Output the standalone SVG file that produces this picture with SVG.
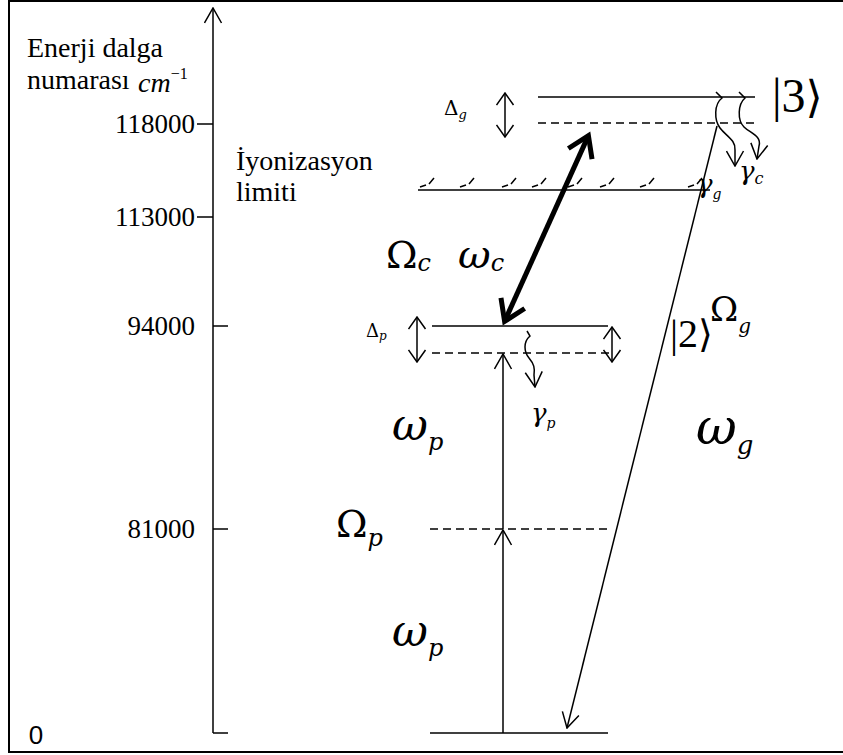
<svg xmlns="http://www.w3.org/2000/svg" width="843" height="755" viewBox="0 0 843 755">
<style>
.ln{stroke:#000;stroke-width:1.5;fill:none}
.dash{stroke:#000;stroke-width:1.5;fill:none;stroke-dasharray:8,5}
.thick{stroke:#000;stroke-width:5;fill:none}
.t{font-family:"Liberation Serif","DejaVu Serif","Times New Roman",serif;fill:#000}
.g{font-family:"DejaVu Serif","Liberation Serif",serif;fill:#000}
.i{font-style:italic}
.s{font-family:"Liberation Sans",Arial,sans-serif;fill:#000}
</style>
<defs>
<marker id="arr" markerUnits="userSpaceOnUse" viewBox="-1 -1 17 19" markerWidth="17" markerHeight="19" refX="15" refY="8.5" orient="auto-start-reverse">
<path d="M0,0 L15,8.5 L0,17" fill="none" stroke="#000" stroke-width="1.5"/>
</marker>
<marker id="arrS" markerUnits="userSpaceOnUse" viewBox="-1 -1 14 19" markerWidth="14" markerHeight="19" refX="12" refY="8.5" orient="auto-start-reverse">
<path d="M0,0 L12,8.5 L0,17" fill="none" stroke="#000" stroke-width="1.5"/>
</marker>
<marker id="arrT" markerUnits="userSpaceOnUse" viewBox="-3 -3 28 32" markerWidth="28" markerHeight="32" refX="20" refY="13" orient="auto-start-reverse">
<path d="M0,0 L20,13 L0,26" fill="none" stroke="#000" stroke-width="5"/>
</marker>
</defs>
<rect x="9" y="1" width="840" height="751" fill="#fff" stroke="#000" stroke-width="2"/>

<g id="axis">
<line class="ln" x1="213" y1="733" x2="213" y2="8" marker-end="url(#arr)"/>
<line class="ln" x1="197" y1="124" x2="213" y2="124"/>
<line class="ln" x1="197" y1="217" x2="213" y2="217"/>
<line class="ln" x1="213" y1="326" x2="228" y2="326"/>
<line class="ln" x1="213" y1="529" x2="228" y2="529"/>
<line class="ln" x1="213" y1="733" x2="228" y2="733"/>
<text class="t" x="27" y="57" font-size="28">Enerji dalga</text>
<text class="t" x="27" y="89" font-size="28">numarası</text>
<text class="t i" x="138" y="92" font-size="28">cm<tspan font-size="16" font-style="normal" dy="-13">−1</tspan></text>
<text class="t" x="195" y="133" font-size="27" text-anchor="end">118000</text>
<text class="t" x="195" y="226" font-size="27" text-anchor="end">113000</text>
<text class="t" x="195" y="335" font-size="27" text-anchor="end">94000</text>
<text class="t" x="195" y="538" font-size="27" text-anchor="end">81000</text>
<text class="s" x="36" y="744" font-size="26" text-anchor="middle">0</text>
</g>

<g id="level3">
<line class="ln" x1="538" y1="97" x2="755" y2="97"/>
<line class="dash" x1="538" y1="123" x2="755" y2="123"/>
<text class="g" x="444" y="115" font-size="20">Δ<tspan class="i" font-size="13" dy="4">g</tspan></text>
<text class="t" x="772" y="112" font-size="48">|3<tspan class="g" font-size="44">⟩</tspan></text>
</g>

<g id="ionization">
<line class="ln" x1="418" y1="190" x2="710" y2="190"/>
<path class="ln" stroke-width="1.2" d="M420,187 l6,-2 M429,184 l5,-6 M460,187 l6,-2 M469,184 l5,-6 M502,187 l6,-2 M511,184 l5,-6 M532,187 l6,-2 M541,184 l5,-6 M568,187 l6,-2 M577,184 l5,-6 M600,187 l6,-2 M609,184 l5,-6 M640,187 l6,-2 M649,184 l5,-6 M688,187 l6,-2 M697,184 l5,-6"/>
<text class="t" x="236" y="170" font-size="28">İyonizasyon</text>
<text class="t" x="236" y="201" font-size="28">limiti</text>
<text class="g i" x="697" y="193" font-size="26">γ<tspan font-size="14" dy="6">g</tspan></text>
<text class="g i" x="739" y="180" font-size="26">γ<tspan font-size="16" dy="4">c</tspan></text>
</g>

<g id="level2">
<line class="ln" x1="432" y1="326" x2="608" y2="326"/>
<line class="dash" x1="432" y1="353" x2="610" y2="353"/>
<text class="g" x="366" y="337" font-size="18">Δ<tspan class="i" font-size="12" dy="3">p</tspan></text>
<text class="t" x="670" y="347" font-size="40">|2<tspan class="g" font-size="38">⟩</tspan></text>
<text class="g" x="710" y="321" font-size="34">Ω<tspan class="i" font-size="20" dy="12">g</tspan></text>
<text class="g i" x="531" y="422" font-size="26">γ<tspan font-size="14" dy="6">p</tspan></text>
</g>

<g id="virtual">
<line class="dash" x1="430" y1="529" x2="610" y2="529"/>
</g>

<g id="ground">
<line class="ln" x1="430" y1="733" x2="608" y2="733"/>
</g>

<g id="labels">
<text class="g" x="386" y="268" font-size="38">Ω<tspan class="i" font-size="24" dy="3">c</tspan></text>
<text class="g i" x="458" y="268" font-size="40">ω<tspan font-size="24" dy="3">c</tspan></text>
<text class="g" x="336" y="537" font-size="38">Ω<tspan class="i" font-size="24" dy="9">p</tspan></text>
<text class="g i" x="392" y="440" font-size="44">ω<tspan font-size="24" dy="10">p</tspan></text>
<text class="g i" x="392" y="646" font-size="44">ω<tspan font-size="24" dy="10">p</tspan></text>
<text class="g i" x="696" y="444" font-size="50">ω<tspan font-size="26" dy="10">g</tspan></text>
</g>

<g id="connectors">
<line class="ln" x1="503" y1="733" x2="503" y2="530" marker-end="url(#arr)"/>
<line class="ln" x1="503" y1="529" x2="503" y2="354" marker-end="url(#arr)"/>
<line class="ln" x1="717" y1="126" x2="567" y2="728" marker-end="url(#arr)"/>
<line class="thick" x1="588.4" y1="135.6" x2="504.6" y2="321.4" marker-start="url(#arrT)" marker-end="url(#arrT)"/>
<line class="ln" x1="505" y1="93" x2="505" y2="137" marker-start="url(#arrS)" marker-end="url(#arrS)"/>
<line class="ln" x1="417" y1="317" x2="417" y2="362" marker-start="url(#arrS)" marker-end="url(#arrS)"/>
<line class="ln" x1="612" y1="327" x2="612" y2="362" marker-start="url(#arrS)" marker-end="url(#arrS)"/>
<path class="ln" d="M716,92 L722,98 C714,104 714,120 720,128 C726,136 736,140 735,150 L735,166" marker-end="url(#arr)"/>
<path class="ln" d="M739,92 L745,98 C738,104 737,120 744,127 C750,133 762,136 759,146 L757,159" marker-end="url(#arr)"/>
<path class="ln" d="M527,331 L530,336 C523,342 524,352 529,358 C534,364 535,368 534,375 L535,387" marker-end="url(#arr)"/>
</g>
</svg>
